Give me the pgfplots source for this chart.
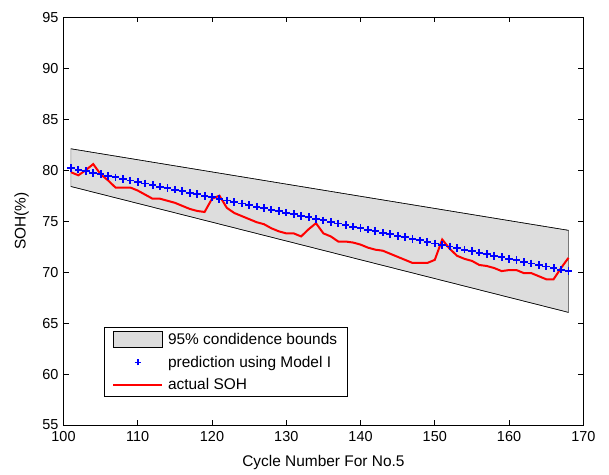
\documentclass[border=0pt]{standalone}
\usepackage{fontspec}
\setmainfont{Liberation Sans}
\usepackage{pgfplots}
\usepackage{pgfplotstable}
\pgfplotsset{compat=1.18}
\definecolor{bandgray}{RGB}{221,221,221}
\definecolor{edgegray}{RGB}{120,120,120}

% cycle, predicted SOH (Model I), measured SOH
\pgfplotstableread{
cyc pred actual
101 80.20 79.8
102 80.05 79.5
103 79.90 80.0
104 79.75 80.6
105 79.60 79.6
106 79.45 79.0
107 79.30 78.3
108 79.15 78.3
109 78.99 78.3
110 78.84 78.0
111 78.69 77.6
112 78.54 77.2
113 78.39 77.2
114 78.24 77.0
115 78.09 76.8
116 77.94 76.5
117 77.79 76.2
118 77.64 76.0
119 77.49 75.9
120 77.34 77.2
121 77.19 77.5
122 77.03 76.3
123 76.88 75.8
124 76.73 75.5
125 76.58 75.2
126 76.43 74.9
127 76.28 74.7
128 76.13 74.3
129 75.98 74.0
130 75.83 73.8
131 75.68 73.8
132 75.53 73.5
133 75.38 74.2
134 75.23 74.8
135 75.07 73.8
136 74.92 73.5
137 74.77 73.0
138 74.62 73.0
139 74.47 72.9
140 74.32 72.7
141 74.17 72.4
142 74.02 72.2
143 73.87 72.1
144 73.72 71.8
145 73.57 71.5
146 73.42 71.2
147 73.27 70.9
148 73.11 70.9
149 72.96 70.9
150 72.81 71.2
151 72.66 73.2
152 72.51 72.3
153 72.36 71.6
154 72.21 71.3
155 72.06 71.1
156 71.91 70.7
157 71.76 70.6
158 71.61 70.4
159 71.46 70.1
160 71.31 70.2
161 71.16 70.2
162 71.00 69.9
163 70.85 69.9
164 70.70 69.6
165 70.55 69.3
166 70.40 69.3
167 70.25 70.4
168 70.10 71.4
}\soh

\begin{document}
\begin{tikzpicture}
\begin{axis}[
  name=ax, scale only axis, width=519.8bp, height=407.7bp,
  xmin=100, xmax=170, ymin=55, ymax=95,
  xtick={100,110,...,170}, ytick={55,60,...,95},
  tick align=inside, major tick length=5bp,
  axis line style={line width=1bp}, tick style={black, line width=0.8bp},
  tick label style={font=\fontsize{14.5}{14.5}\selectfont},
  x tick label style={yshift=-3bp},
  y tick label style={xshift=-1.5bp},
  /pgf/number format/assume math mode=true,
  xlabel={Cycle Number For No.5}, ylabel={SOH(\%)},
  label style={font=\fontsize{15.5}{15.5}\selectfont},
  xlabel style={at={(axis description cs:0.5,-0.1023)}, anchor=base},
  ylabel style={at={(axis description cs:-0.0804,0.5)}, anchor=center},
  legend style={at={(0.078,0.068)}, anchor=south west, draw=black, line width=0.8bp,
    fill=white, font=\fontsize{15.5}{15.5}\selectfont, inner xsep=8bp, inner ysep=3.5bp,
    row sep=6bp, /tikz/every odd column/.append style={column sep=3bp}},
  legend cell align=left,
]
\addplot[fill=bandgray, draw=edgegray, line width=0.6bp,
  legend image code/.code={\draw[fill=bandgray, draw=black, line width=0.6bp] (0bp,-8bp) rectangle (49bp,8bp);}]
  coordinates {(101,82.1) (120,79.83) (140,77.44) (168,74.1) (168,66.05) (140,71.21) (120,74.9) (101,78.4)} -- cycle;
\addlegendentry{95\% condidence bounds}
\addplot[black, line width=0.6bp, forget plot] coordinates {(101,82.1) (120,79.83) (140,77.44) (168,74.1)};
\addplot[black, line width=0.6bp, forget plot] coordinates {(101,78.4) (120,74.9) (140,71.21) (168,66.05)};
\addplot[blue, only marks, mark=+, mark size=3.8bp, mark options={line width=1.9bp},
  legend image code/.code={\path[draw=none] (0bp,0bp) -- (49bp,0bp);
    \path[draw=blue, line width=1.6bp] (21.5bp,0bp) -- (27.5bp,0bp) (24.5bp,-3bp) -- (24.5bp,3bp);}]
  table[x=cyc, y=pred] {\soh};
\addlegendentry{prediction using Model I}
\addplot[red, line width=2bp,
  legend image code/.code={\draw[red, line width=1.6bp] (0bp,0bp) -- (49bp,0bp);}]
  table[x=cyc, y=actual] {\soh};
\addlegendentry{actual SOH}
\end{axis}
\pgfresetboundingbox
\path ([xshift=-63.5bp,yshift=-49bp]ax.south west) rectangle ([xshift=25.7bp,yshift=17.3bp]ax.north east);
\end{tikzpicture}
\end{document}
